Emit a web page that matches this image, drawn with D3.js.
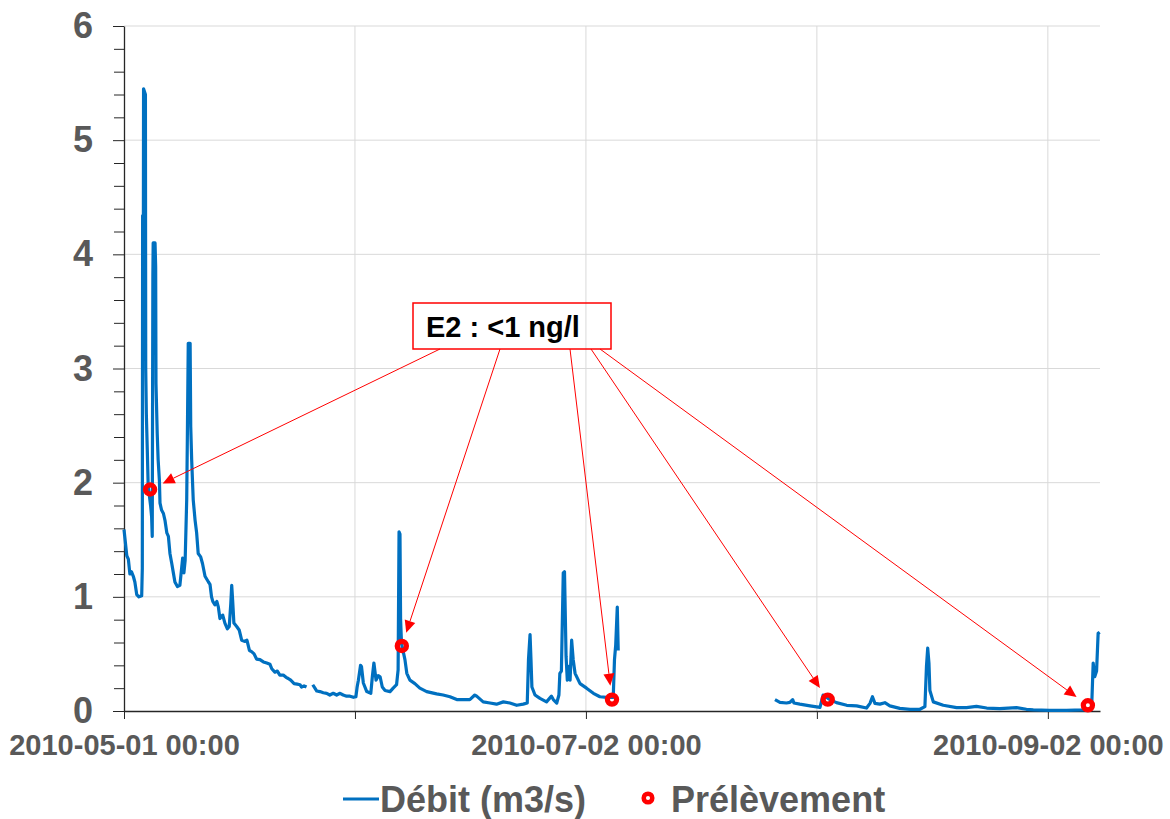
<!DOCTYPE html>
<html>
<head>
<meta charset="utf-8">
<script src="https://cdn.jsdelivr.net/npm/d3@7"></script>
<style>
  body { margin: 0; background: #fff; }
  svg { display: block; }
  text { font-family: "Liberation Sans", Arial, sans-serif; font-weight: bold; }
</style>
</head>
<body>
<svg id="chart" width="1170" height="819"></svg>
<script>
// Hourly discharge record (month-day T hour, year 2010); null marks a gap in the record
const flowTimes = [
  "05-01T00","05-01T09","05-01T14","05-01T19","05-02T00","05-02T06","05-02T11","05-02T17","05-03T00","05-03T09",
  "05-03T11","05-03T12","05-03T14","05-03T15","05-03T21","05-03T22","05-04T00","05-04T03","05-04T06","05-04T10",
  "05-04T14","05-04T17","05-04T19","05-04T21","05-04T22","05-05T04","05-05T06","05-05T07","05-05T11","05-05T14",
  "05-05T18","05-05T20","05-06T01","05-06T07","05-06T12","05-06T18","05-06T23","05-07T04","05-07T10","05-07T15",
  "05-07T20","05-08T04","05-08T12","05-08T18","05-08T21","05-09T01","05-09T05","05-09T10","05-09T12","05-09T15",
  "05-09T21","05-09T23","05-10T02","05-10T07","05-10T13","05-10T18","05-10T23","05-11T07","05-11T13","05-11T21",
  "05-12T08","05-12T13","05-12T18","05-12T22","05-13T05","05-13T11","05-13T16","05-13T21","05-14T06","05-14T13",
  "05-14T21","05-15T03","05-15T08","05-15T11","05-15T14","05-15T18","05-16T03","05-16T11","05-16T19","05-17T06",
  "05-17T12","05-17T20","05-18T03","05-18T11","05-18T19","05-19T06","05-19T17","05-20T04","05-20T14","05-20T20",
  "05-21T06","05-21T14","05-21T22","05-22T09","05-22T18","05-23T01","05-23T09","05-23T20","05-24T06","05-24T15",
  "05-24T20","05-25T04","05-25T12","05-25T20","05-26T08","05-26T15","05-26T21","05-27T07","05-27T18","05-28T05",
  "05-28T15","05-29T02","05-29T13","05-30T00","05-30T10","05-30T21","05-31T08","05-31T19","06-01T03","06-01T07",
  "06-01T11","06-01T18","06-01T21","06-02T03","06-02T14","06-03T03","06-03T08","06-03T13","06-03T20","06-04T03",
  "06-04T09","06-04T16","06-05T01","06-05T17","06-06T03","06-06T14","06-06T19","06-06T22","06-07T01","06-07T03",
  "06-07T06","06-07T17","06-07T23","06-08T09","06-09T01","06-09T17","06-10T15","06-11T23","06-12T20","06-13T18",
  "06-14T16","06-16T00","06-16T10","06-17T02","06-17T08","06-18T05","06-19T03","06-20T00","06-20T22","06-21T19",
  "06-22T17","06-23T14","06-24T03","06-24T07","06-24T12","06-24T15","06-24T18","06-25T04","06-25T20","06-26T17",
  "06-27T09","06-27T15","06-28T02","06-28T09","06-28T12","06-28T17","06-28T23","06-29T03","06-29T08","06-29T12",
  "06-29T17","06-29T21","06-30T02","06-30T07","06-30T13","07-01T05","07-02T02","07-03T00","07-03T21","07-04T19",
  "07-05T16","07-05T20","07-06T00","07-06T05","07-06T08","07-06T12","07-27T09","07-28T01","07-28T22","07-29T09",
  "07-29T18","07-29T22","07-30T17","08-01T02","08-02T10","08-02T20","08-03T18","08-04T15","08-06T00","08-07T08",
  "08-08T16","08-09T03","08-09T11","08-09T19","08-10T11","08-11T03","08-11T19","08-13T03","08-14T12","08-15T20",
  "08-16T12","08-16T17","08-16T21","08-17T01","08-17T04","08-17T15","08-18T23","08-20T18","08-22T02","08-23T10",
  "08-24T19","08-26T13","08-28T19","08-30T03","08-31T01","09-02T06","09-04T12","09-06T18","09-07T21","09-08T02",
  "09-08T07","09-08T13","09-08T18","09-08T23"
];
const flowValues = [
  1.59,1.36,1.33,1.20,1.22,1.18,1.13,1.02,1.00,1.01,
  1.25,4.34,3.30,5.45,5.40,3.00,2.60,2.29,1.96,1.88,
  1.79,1.70,1.53,3.82,4.10,4.10,3.89,2.87,2.43,2.20,
  2.02,1.82,1.76,1.73,1.67,1.56,1.53,1.38,1.29,1.21,
  1.13,1.09,1.10,1.26,1.34,1.21,1.32,1.85,2.37,3.22,
  3.22,2.49,2.20,1.85,1.67,1.56,1.38,1.35,1.29,1.18,
  1.13,1.11,1.00,0.96,0.93,0.96,0.91,0.81,0.84,0.77,
  0.72,0.74,0.94,1.10,0.97,0.77,0.74,0.71,0.62,0.61,
  0.62,0.53,0.52,0.50,0.455,0.45,0.43,0.42,0.41,0.37,
  0.34,0.35,0.315,0.315,0.295,0.285,0.27,0.24,0.235,0.23,
  0.21,0.22,0.21,null,0.23,0.20,0.175,0.17,0.16,0.155,
  0.14,0.155,0.14,0.155,0.14,0.13,0.13,0.12,0.125,0.21,
  0.27,0.40,0.39,0.245,0.17,0.155,0.30,0.42,0.27,0.31,
  0.30,0.21,0.18,0.17,0.20,0.23,0.36,1.57,1.55,0.80,
  0.59,0.45,0.33,0.27,0.24,0.20,0.17,0.15,0.14,0.125,
  0.10,0.10,0.10,0.14,0.13,0.08,0.07,0.06,0.08,0.07,
  0.05,0.06,0.07,0.45,0.67,0.45,0.21,0.14,0.11,0.08,
  0.13,0.10,0.07,0.14,0.33,0.35,1.21,1.22,0.48,0.27,
  0.39,0.27,0.62,0.45,0.33,0.24,0.20,0.155,0.125,0.12,
  0.12,0.45,0.58,0.91,0.53,null,0.10,0.076,0.07,0.075,
  0.10,0.07,0.06,0.045,0.032,0.14,0.10,0.073,0.05,0.045,
  0.026,0.067,0.125,0.067,0.06,0.073,0.045,0.023,0.015,0.015,
  0.038,0.39,0.55,0.42,0.18,0.08,0.05,0.03,0.03,0.04,
  0.026,0.02,0.03,0.015,0.01,0.005,0.005,0.01,0.02,0.42,
  0.30,0.35,0.68,0.69
];

// Sampling events (prélèvements)
const sampleTimes = ["05-04T12","06-07T07","07-05T12","08-03T11","09-07T09"];
const sampleValues = [1.94, 0.57, 0.10, 0.10, 0.05];

const xDomain = ["05-01T00", "09-09T00"];
const xTickDates = ["05-01T00","06-01T00","07-02T00","08-02T00","09-02T00"];
const xLabelDates = ["05-01T00","07-02T00","09-02T00"];
const yTicks = [0, 1, 2, 3, 4, 5, 6];
const yMinorStep = 0.2;

const annotationText = "E2 : <1 ng/l";
const legendLabels = ["Débit (m3/s)", "Prélèvement"];

// ---------------------------------------------------------------
const parseTime = s => d3.utcParse("%Y-%m-%dT%H")("2010-" + s);
const fmt = d3.utcFormat("%Y-%m-%d %H:%M");

const BLUE = "#0070C0", RED = "#FF0000", GREY = "#595959", GRID = "#d9d9d9", AXIS = "#262626";
const plotLeft = 124, plotRight = 1100, plotTop = 26, plotBottom = 711;

const svg = d3.select("#chart");
const x = d3.scaleUtc().domain(xDomain.map(parseTime)).range([plotLeft, plotRight]);
const y = d3.scaleLinear().domain([0, 6]).range([plotBottom, plotTop]);

const flow = flowTimes.map((t, i) => ({ t: parseTime(t), v: flowValues[i] }));
const samples = sampleTimes.map((t, i) => ({ t: parseTime(t), v: sampleValues[i] }));

// Gridlines
svg.append("g")
  .selectAll("line").data(yTicks.filter(d => d > 0)).join("line")
  .attr("x1", plotLeft).attr("x2", plotRight)
  .attr("y1", d => y(d)).attr("y2", d => y(d))
  .attr("stroke", GRID).attr("stroke-width", 1);
svg.append("g")
  .selectAll("line").data(xTickDates.slice(1).map(parseTime)).join("line")
  .attr("x1", d => x(d)).attr("x2", d => x(d))
  .attr("y1", plotTop).attr("y2", plotBottom)
  .attr("stroke", GRID).attr("stroke-width", 1);

// Minor y ticks
const minorTicks = d3.range(0, 6 + 1e-9, yMinorStep).filter(v => Math.abs(v - Math.round(v)) > 1e-6);
const gMinor = svg.append("g").attr("transform", `translate(${plotLeft},0)`)
  .call(d3.axisLeft(y).tickValues(minorTicks).tickSize(10).tickFormat(""));
gMinor.select(".domain").remove();
gMinor.selectAll("line").attr("stroke", AXIS);

// Major y axis
const gy = svg.append("g").attr("transform", `translate(${plotLeft},0)`)
  .call(d3.axisLeft(y).tickValues(yTicks).tickSize(11).tickSizeOuter(0).tickPadding(20).tickFormat(d3.format("d")));
gy.select(".domain").attr("stroke", AXIS).attr("stroke-width", 1.3);
gy.selectAll("line").attr("stroke", AXIS);
gy.selectAll("text").attr("font-size", 36).attr("fill", GREY)
  .attr("font-family", '"Liberation Sans", Arial, sans-serif').attr("font-weight", "bold");

// X axis
const labelSet = new Set(xLabelDates.map(s => +parseTime(s)));
const gx = svg.append("g").attr("transform", `translate(0,${plotBottom})`)
  .call(d3.axisBottom(x).tickValues(xTickDates.map(parseTime)).tickSize(8).tickSizeOuter(0)
    .tickFormat(d => labelSet.has(+d) ? fmt(d) : ""));
gx.select(".domain").attr("stroke", AXIS).attr("stroke-width", 1.3);
gx.selectAll("line").attr("stroke", AXIS);
gx.selectAll("text").attr("font-size", 29).attr("fill", GREY).attr("y", 44).attr("dy", null)
  .attr("font-family", '"Liberation Sans", Arial, sans-serif').attr("font-weight", "bold");

// Discharge line
const line = d3.line().defined(d => d.v !== null).x(d => x(d.t)).y(d => y(d.v));
svg.append("path").datum(flow)
  .attr("d", line).attr("fill", "none")
  .attr("stroke", BLUE).attr("stroke-width", 3.2)
  .attr("stroke-linejoin", "round").attr("stroke-linecap", "butt");

// Annotation box with arrows pointing to each sample
const box = { x: 413, y: 303, w: 198, h: 46 };
const arrowStartX = [440, 500, 570, 591, 600];
const gAnn = svg.append("g");
samples.forEach((s, i) => {
  const x0 = arrowStartX[i], y0 = box.y + box.h;
  const px = x(s.t), py = y(s.v);
  const dx = px - x0, dy = py - y0, len = Math.hypot(dx, dy);
  const ux = dx / len, uy = dy / len, nx = -uy, ny = ux;
  const tipX = px - ux * 14, tipY = py - uy * 14;
  const bx = tipX - ux * 12, by = tipY - uy * 12;
  gAnn.append("line")
    .attr("x1", x0).attr("y1", y0).attr("x2", bx).attr("y2", by)
    .attr("stroke", RED).attr("stroke-width", 1);
  gAnn.append("path")
    .attr("d", `M${tipX},${tipY}L${bx + nx * 5.5},${by + ny * 5.5}L${bx - nx * 5.5},${by - ny * 5.5}Z`)
    .attr("fill", RED);
});
gAnn.append("rect")
  .attr("x", box.x).attr("y", box.y).attr("width", box.w).attr("height", box.h)
  .attr("fill", "none").attr("stroke", RED).attr("stroke-width", 1.5);
gAnn.append("text")
  .attr("x", 426).attr("y", 337)
  .attr("font-size", 29).attr("fill", "#000")
  .text(annotationText);

// Sample markers
svg.append("g").selectAll("circle").data(samples).join("circle")
  .attr("cx", d => x(d.t)).attr("cy", d => y(d.v)).attr("r", 4.6)
  .attr("fill", "none").attr("stroke", RED).attr("stroke-width", 5.2);

// Legend
const gLeg = svg.append("g");
gLeg.append("line").attr("x1", 343).attr("x2", 379).attr("y1", 799).attr("y2", 799)
  .attr("stroke", BLUE).attr("stroke-width", 3);
gLeg.append("text").attr("x", 380).attr("y", 812).attr("font-size", 36).attr("fill", GREY).text(legendLabels[0]);
gLeg.append("circle").attr("cx", 648).attr("cy", 798).attr("r", 4.3)
  .attr("fill", "#fff").attr("stroke", RED).attr("stroke-width", 4.5);
gLeg.append("text").attr("x", 671).attr("y", 812).attr("font-size", 36).attr("fill", GREY).text(legendLabels[1]);
</script>
</body>
</html>
